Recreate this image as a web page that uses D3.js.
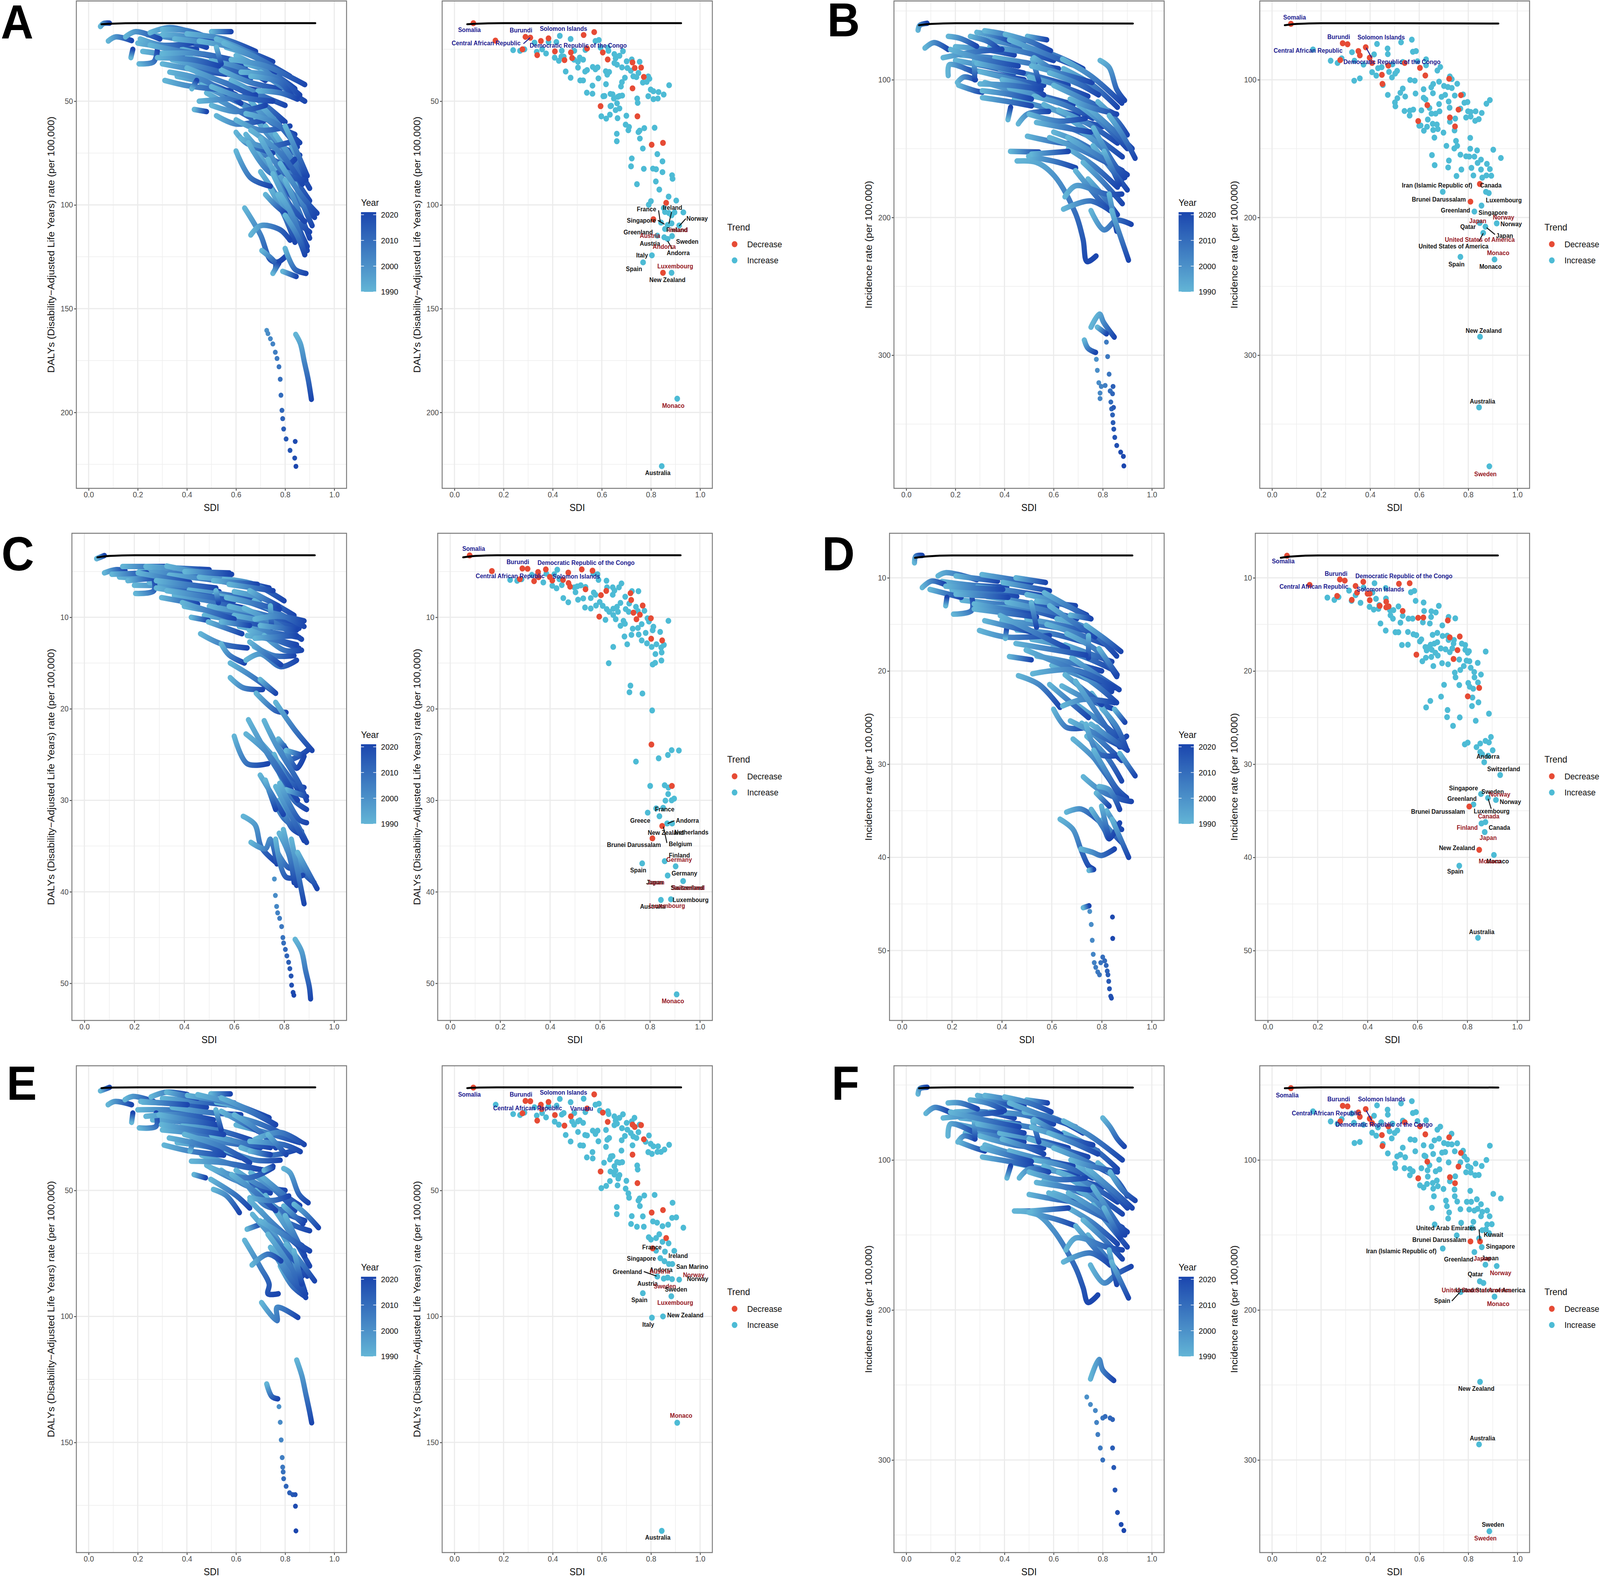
<!DOCTYPE html>
<meta charset="utf-8">
<title>SDI trajectories</title>
<style>
  html, body { margin: 0; background: #fff; overflow: hidden; }
  svg { display: block; width: 100vw; height: 100vh; }
  text { font-family: "Liberation Sans", sans-serif; }
</style>
<div id="viz"></div>
<script src="https://cdnjs.cloudflare.com/ajax/libs/d3/7.8.5/d3.min.js"></script>
<script>

var width = 4317;
var height = 4034;

var sdiTicks = [0, 0.2, 0.4, 0.6, 0.8, 1];
var sdiMinor = [0.1, 0.3, 0.5, 0.7, 0.9];
var yearTicks = [1990, 2000, 2010, 2020];
var dalyTitle = "DALYs (Disability\u2212Adjusted Life Years) rate (per 100,000)";
var incTitle = "Incidence rate (per 100,000)";

// expected curve, same for both plots of a pair
var refA = [[.052,12.9],[.1,12.6],[.2,12.4],[.5,12.4],[.923,12.4]];
var refB = [[.052,60.4],[.1,59.5],[.2,59],[.5,59],[.923,59.2]];
var refC = [[.052,3.45],[.1,3.3],[.2,3.22],[.5,3.22],[.923,3.22]];
var refD = [[.052,7.85],[.1,7.7],[.2,7.6],[.5,7.6],[.923,7.6]];
var refE = [[.052,9.4],[.1,9.2],[.2,9.1],[.5,9.1],[.923,9.1]];
var refF = [[.052,52.2],[.1,51.8],[.2,51.6],[.5,51.6],[.923,51.7]];

// trajectories inside the dense bands, drawn first
var massA = [[[.2,22],[.32,24],[.44,25]],[[.22,26],[.34,28],[.46,31]],[[.24,18],[.36,20],[.48,24]],[[.3,18],[.42,19],[.56,23]],[[.3,32],[.44,35],[.56,37]],[[.34,30],[.48,34],[.6,38]],[[.36,38],[.5,42],[.6,47]],[[.38,25],[.52,29],[.64,33]],[[.4,29],[.54,33],[.66,39]],[[.44,36],[.58,42],[.7,45]],[[.46,42],[.6,50],[.7,55]],[[.48,46],[.6,54],[.72,62]],[[.5,30],[.62,34],[.72,40]],[[.54,35],[.66,41],[.78,44]],[[.56,24],[.68,29],[.78,37]],[[.56,46],[.66,54],[.78,60]],[[.58,40],[.7,47],[.8,52]],[[.6,28],[.7,34],[.8,42]],[[.62,44],[.72,52],[.8,60]],[[.64,32],[.74,36],[.84,44]],[[.66,50],[.74,60],[.84,66]],[[.7,36],[.8,44],[.88,50]],[[.68,58],[.76,70],[.86,76]],[[.7,52],[.78,62],[.85,72]],[[.72,62],[.8,74],[.88,86]],[[.74,70],[.82,84],[.9,98]],[[.64,66],[.72,76],[.82,82]],[[.76,66],[.84,80],[.9,92]],[[.68,74],[.76,86],[.84,98]],[[.7,84],[.78,98],[.85,110]],[[.76,82],[.84,96],[.92,106]],[[.8,88],[.86,104],[.9,116]],[[.82,100],[.86,112],[.89,122]],[[.74,92],[.8,106],[.84,118]],[[.84,90],[.88,102],[.91,110]],[[.82,70],[.86,80],[.88,86]]];
var massB = [[[.2,76],[.32,78],[.44,82]],[[.2,86],[.32,90],[.44,95]],[[.22,82],[.34,84],[.46,87]],[[.24,92],[.36,96],[.48,100]],[[.3,70],[.42,74],[.54,80]],[[.3,94],[.44,100],[.56,104]],[[.32,102],[.44,108],[.58,114]],[[.34,76],[.48,80],[.6,86]],[[.36,84],[.5,88],[.62,92]],[[.38,92],[.52,97],[.66,104]],[[.42,106],[.56,112],[.68,118]],[[.44,114],[.56,120],[.7,126]],[[.48,76],[.6,82],[.72,92]],[[.5,98],[.62,104],[.74,112]],[[.52,112],[.64,118],[.76,128]],[[.54,90],[.66,98],[.78,108]],[[.56,118],[.68,128],[.8,134]],[[.56,130],[.68,136],[.8,146]],[[.6,104],[.72,114],[.84,124]],[[.6,138],[.7,145],[.82,158]],[[.62,122],[.74,132],[.86,146]],[[.64,92],[.76,104],[.86,120]],[[.66,128],[.76,140],[.88,156]],[[.66,150],[.76,162],[.86,178]],[[.7,118],[.8,132],[.9,150]],[[.7,136],[.8,150],[.88,172]],[[.72,160],[.8,174],[.88,190]],[[.74,120],[.84,136],[.92,150]],[[.76,148],[.84,166],[.9,180]],[[.78,116],[.86,130],[.9,140]],[[.74,172],[.8,184],[.86,198]]];
var massC = [[[.14,5.6],[.26,5.8],[.4,6.1]],[[.2,6.5],[.32,6.6],[.46,7]],[[.22,5],[.36,5.2],[.5,5.6]],[[.26,6.2],[.4,6.6],[.54,7.2]],[[.34,5.4],[.48,5.8],[.62,6.4]],[[.36,7.6],[.5,8.2],[.64,9]],[[.4,8.8],[.52,9.4],[.66,10]],[[.42,7],[.56,7.5],[.7,8.2]],[[.46,5.6],[.6,6],[.74,6.8]],[[.48,9.8],[.6,10.3],[.72,11]],[[.5,8.8],[.62,9.4],[.76,10.2]],[[.52,7.6],[.64,8.2],[.78,9.6]],[[.56,5.8],[.68,6.4],[.8,8.2]],[[.58,8.8],[.7,9.6],[.84,10.6]],[[.6,7.2],[.72,8],[.84,9.8]],[[.6,9.8],[.72,10.4],[.86,11.2]],[[.62,11],[.74,11.6],[.86,12.2]],[[.64,9],[.76,10.6],[.87,12.4]],[[.66,11.4],[.76,12.4],[.86,13.4]],[[.68,8.2],[.78,9.6],[.88,11]],[[.68,13.2],[.76,14.2],[.84,14.2]],[[.72,12],[.8,13.6],[.87,13.6]],[[.7,23.5],[.78,26],[.86,29]],[[.74,22.4],[.82,25.5],[.9,24.4]],[[.76,25],[.82,28],[.88,28.6]],[[.78,27],[.84,30],[.89,31]],[[.74,29],[.8,32],[.87,33.4]],[[.8,24],[.85,26.5],[.88,25.2]],[[.78,30],[.83,33],[.86,33.6]],[[.82,31],[.86,33],[.89,34.6]],[[.76,35],[.82,37.4],[.86,37]],[[.84,36],[.88,38],[.92,39]],[[.78,33.6],[.82,36],[.84,39]]];
var massD = [[[.16,10.4],[.28,10.8],[.42,11]],[[.2,11.3],[.32,11.6],[.46,12]],[[.24,12.4],[.38,12.8],[.52,13.2]],[[.3,11],[.44,11.4],[.58,12]],[[.34,12],[.48,12.6],[.62,13.2]],[[.36,13.2],[.5,13.4],[.64,14.4]],[[.4,14.6],[.54,15],[.68,15.6]],[[.42,12.6],[.56,13.4],[.7,14.4]],[[.46,15.6],[.6,16],[.74,17]],[[.5,11.8],[.62,12.6],[.74,14]],[[.5,14.4],[.62,15],[.76,15.8]],[[.52,16.6],[.66,17.4],[.78,18.6]],[[.54,18.4],[.66,19],[.8,20]],[[.58,15],[.7,16],[.82,17.2]],[[.6,17.6],[.72,18.4],[.84,19.8]],[[.6,19.4],[.72,20.6],[.84,22.2]],[[.62,14.4],[.74,15.4],[.86,18.4]],[[.64,21.6],[.74,23],[.84,24]],[[.66,16],[.78,17.8],[.86,20.6]],[[.68,18.6],[.78,20.4],[.87,22]],[[.7,20],[.8,22],[.86,23.4]],[[.7,23.6],[.8,25.6],[.88,27.4]],[[.72,25.6],[.8,27.6],[.88,29.6]],[[.74,27],[.82,29.2],[.88,31.8]],[[.76,22.4],[.84,25.4],[.88,27.2]],[[.76,29],[.83,31.6],[.88,33.4]],[[.78,26],[.85,27.6],[.9,27]],[[.8,30],[.86,32.6],[.9,33.6]],[[.8,24],[.86,26],[.9,28.4]],[[.82,35],[.86,36.6],[.88,37]],[[.8,36],[.83,37],[.88,38.4]]];
var massE = [[[.2,18],[.32,18],[.46,19]],[[.22,15],[.34,15.5],[.48,17]],[[.26,22],[.4,23],[.52,25]],[[.3,13.5],[.42,14.5],[.56,16]],[[.3,26],[.44,27.5],[.58,30]],[[.34,17],[.48,19],[.62,20]],[[.36,31],[.5,33],[.62,37]],[[.38,24.5],[.52,26],[.66,30]],[[.42,29],[.56,31],[.7,33]],[[.46,36],[.6,40],[.72,42]],[[.48,40],[.6,46],[.7,49]],[[.5,28],[.62,31],[.74,33]],[[.52,15],[.64,18],[.76,24]],[[.54,42],[.64,48],[.74,51]],[[.56,20],[.68,23],[.8,28]],[[.56,34],[.68,38],[.78,38]],[[.6,24],[.72,27],[.86,31]],[[.6,42],[.7,48],[.8,50]],[[.62,33],[.74,36],[.84,34]],[[.64,47],[.72,56],[.82,58]],[[.66,43],[.76,50],[.84,58]],[[.68,50],[.78,58],[.88,62]],[[.7,58],[.78,66],[.87,72]],[[.72,52],[.8,62],[.9,66]],[[.72,62],[.8,74],[.87,84]],[[.76,58],[.84,70],[.9,80]],[[.76,72],[.82,84],[.88,90]],[[.78,66],[.85,78],[.89,84]],[[.8,60],[.85,70],[.88,76]],[[.78,80],[.83,88],[.88,92]],[[.82,74],[.86,84],[.88,90]],[[.7,44],[.8,52],[.86,56]]];
var massF = [[[.2,68],[.32,68],[.44,72]],[[.2,76],[.32,80],[.44,84]],[[.22,72],[.34,74],[.46,76]],[[.24,82],[.36,84],[.48,88]],[[.3,61],[.42,64],[.54,70]],[[.3,84],[.44,90],[.56,92]],[[.32,90],[.44,96],[.58,100]],[[.34,68],[.48,70],[.6,76]],[[.36,74],[.5,78],[.62,82]],[[.38,82],[.52,86],[.66,92]],[[.42,94],[.56,100],[.68,104]],[[.44,102],[.56,106],[.7,110]],[[.48,68],[.6,72],[.72,82]],[[.5,86],[.62,92],[.74,98]],[[.52,100],[.64,104],[.76,112]],[[.54,80],[.66,86],[.78,94]],[[.56,104],[.68,112],[.8,118]],[[.56,114],[.68,120],[.8,128]],[[.6,92],[.72,100],[.84,110]],[[.6,122],[.7,128],[.82,138]],[[.62,108],[.74,116],[.86,128]],[[.64,82],[.76,92],[.86,106]],[[.66,112],[.76,122],[.88,136]],[[.66,132],[.76,142],[.86,156]],[[.7,104],[.8,116],[.9,132]],[[.7,120],[.8,132],[.88,150]],[[.72,140],[.8,152],[.88,166]],[[.74,106],[.84,120],[.92,132]],[[.76,130],[.84,146],[.9,158]],[[.78,102],[.86,114],[.9,124]],[[.74,150],[.8,162],[.86,174]]];

// trajectories 1990 -> 2021
var tracksA = [
[[.048,14],[.06,12.6],[.085,12.4]],[[.08,21],[.11,19],[.175,20.8]],[[.15,19],[.19,16.5],[.29,20]],[[.172,29],[.18,25]],
[[.205,32],[.265,31],[.28,25]],[[.25,17],[.33,14.5],[.45,18]],[[.21,20],[.3,23],[.42,22]],[[.3,15.5],[.4,16],[.5,20]],
[[.5,16.5],[.58,16.5]],[[.4,17.5],[.55,20],[.68,26]],[[.25,23],[.38,26],[.5,28]],[[.28,29],[.42,30],[.53,33]],
[[.3,27],[.45,27],[.62,31]],[[.35,20],[.5,22],[.6,24]],[[.45,21],[.62,25],[.75,31]],[[.52,20],[.66,27],[.76,36]],
[[.55,22],[.7,30],[.82,38]],[[.52,24],[.54,32]],[[.58,30],[.72,33],[.88,42]],[[.62,36],[.75,38],[.86,47]],
[[.66,38],[.78,41],[.83,48]],[[.69,45],[.78,46],[.85,49]],[[.31,40],[.4,42.5],[.5,44],[.58,45]],[[.33,36],[.47,40],[.62,51]],
[[.4,34],[.55,41],[.68,48]],[[.43,54],[.48,55]],[[.45,50],[.55,49],[.68,47]],[[.42,44],[.44,40]],[[.5,43],[.62,48],[.75,50]],
[[.52,57],[.6,61],[.72,59]],[[.5,52],[.6,55],[.72,52]],[[.6,59],[.7,64],[.82,62]],[[.6,65],[.64,70],[.75,75]],
[[.62,68],[.72,72],[.84,69]],[[.64,56],[.75,60],[.86,70]],[[.6,74],[.66,87],[.74,91]],[[.65,70],[.75,85],[.84,78]],
[[.66,64],[.78,75],[.87,90]],[[.7,68],[.8,85],[.885,88]],[[.73,78],[.82,100],[.88,108]],[[.75,85],[.83,105],[.89,120]],
[[.77,95],[.82,105],[.9,113]],[[.72,95],[.76,100],[.8,104]],[[.8,62],[.85,75],[.89,86]],[[.78,80],[.87,96],[.93,104]],
[[.78,95],[.84,108],[.88,124]],[[.8,105],[.85,115],[.88,124]],[[.635,101.5],[.7,114.5],[.74,126.4],[.77,127.5],[.805,124.5]],
[[.66,114.5],[.7,110],[.78,112],[.82,117]],[[.705,122],[.76,128],[.76,131]],[[.75,133],[.775,128]],
[[.8,121],[.84,131],[.885,133]],[[.79,132],[.845,134.5]],[[.843,162.4],[.862,166.8],[.878,175.5],[.894,184.2],[.907,193.7]]
];
var tailA = [[.725,160.5],[.73,162],[.74,164.5],[.75,167],[.76,171],[.767,174],[.775,178],[.78,184],[.783,191.7],[.787,199],[.79,203],[.794,208],[.804,212.8],[.82,218.3],[.839,222],[.841,214],[.844,226]];

var tracksB = [
[[.048,64],[.055,60.5],[.085,59]],[[.076,77],[.113,73],[.171,78]],[[.171,68.5],[.22,70],[.287,75.7]],[[.261,68.5],[.33,72],[.372,77]],
[[.287,65.6],[.36,68],[.424,72]],[[.319,64.4],[.42,68],[.477,73]],[[.493,68.5],[.572,71]],[[.403,67],[.5,72],[.588,79]],
[[.171,97],[.176,89],[.28,95]],[[.208,102],[.235,98],[.282,100]],[[.277,86],[.279,100]],[[.213,104],[.28,108],[.31,109]],
[[.15,84],[.27,80],[.39,78]],[[.18,78],[.31,85],[.456,90]],[[.287,88],[.477,95]],[[.309,108],[.4,110],[.51,114]],
[[.31,113],[.42,116],[.51,119]],[[.39,100],[.5,105],[.56,111]],[[.3,103],[.42,104],[.55,107]],[[.414,129],[.425,120]],
[[.456,132],[.493,125],[.58,123]],[[.42,71],[.55,80],[.69,90]],[[.514,85],[.54,101]],[[.52,84],[.625,96]],[[.51,90],[.62,95],[.757,102]],
[[.583,95],[.7,103],[.783,111]],[[.789,86],[.826,91],[.857,107],[.889,115]],[[.636,85],[.75,97],[.878,117]],[[.667,114],[.75,120],[.857,125]],
[[.5,125],[.62,130],[.73,128]],[[.53,131],[.65,135],[.752,138]],[[.493,141],[.6,145],[.69,147]],[[.424,152],[.54,152.5]],
[[.451,159],[.53,160],[.604,170],[.689,197],[.72,216],[.736,232],[.773,228]],[[.498,155.6],[.62,160],[.69,164]],[[.51,154],[.66,152]],
[[.583,142],[.7,150],[.88,166]],[[.657,142],[.78,155],[.9,169]],[[.762,135],[.85,162],[.89,171]],[[.826,126],[.88,140],[.932,157]],
[[.689,166],[.8,190],[.83,195]],[[.646,185],[.69,177],[.815,183],[.878,183]],[[.64,194],[.75,188],[.83,195]],
[[.752,195],[.805,209],[.857,202],[.916,205]],[[.826,183],[.857,210]],[[.836,195],[.905,231]],[[.805,152],[.868,176]],
[[.752,279.7],[.787,270.2],[.803,276],[.847,286.9]],[[.778,279.7],[.815,284.5]],[[.725,289],[.74,295],[.771,298]]
];
var tailB = [[.774,303],[.778,311],[.784,320],[.789,327.5],[.789,331.5],[.794,322.7],[.81,322],[.815,290.5],[.82,301],[.826,313.8],[.83,326],[.831,326],[.833,334],[.836,339],[.84,328],[.84,343.4],[.842,322.7],[.842,349],[.844,338],[.845,353.7],[.849,359.7],[.857,365.6],[.873,370.4],[.884,373.5],[.886,380.4]];

var tracksC = [
[[.049,3.6],[.08,3.25]],[[.08,5.15],[.125,4.8],[.163,4.9]],[[.11,5.3],[.25,5.15]],[[.153,4.45],[.33,4.45]],[[.174,6],[.283,5.7]],
[[.205,7.4],[.278,7.1],[.278,5.7]],[[.246,4.45],[.5,4.8]],[[.33,4.4],[.45,5],[.59,5.3]],[[.402,5],[.58,5.15]],[[.215,5.15],[.423,6.2]],
[[.288,6],[.527,6.8]],[[.288,6.8],[.527,7.85]],[[.309,7.85],[.454,8.55]],[[.33,7.1],[.6,8.2]],[[.517,6],[.693,6.4]],[[.579,6.4],[.756,7.1]],
[[.527,7.1],[.537,8.4]],[[.569,7.85],[.782,9.1]],[[.662,7.1],[.776,8.75]],[[.392,8.4],[.6,10.2]],[[.428,10],[.496,10.35]],[[.745,8.75],[.75,11.1]],
[[.683,10.2],[.78,9.9],[.88,10.4]],[[.496,10.5],[.631,11.8]],[[.548,10.5],[.662,10.9]],[[.652,12],[.77,12.5],[.85,13]],
[[.465,11.8],[.548,12.9],[.652,13.35]],[[.548,12.9],[.579,14.1],[.641,15]],[[.647,14.7],[.704,14],[.787,15.4],[.85,14.7]],[[.662,12.7],[.787,15.2]],
[[.683,12.3],[.85,12]],[[.704,10.9],[.85,11.4]],[[.584,15],[.662,16.3],[.766,18.3]],[[.584,16.6],[.636,17.7],[.714,17.9]],[[.704,16.8],[.766,18.3]],
[[.688,18.3],[.766,20.2],[.808,20.4]],[[.766,19.3],[.84,22.2],[.912,24.55]],[[.657,21.2],[.725,24.55],[.808,28.15],[.854,30]],
[[.72,21.3],[.766,23.85],[.86,28.15],[.89,30]],[[.647,22.75],[.735,24.9],[.829,28.85]],[[.6,23],[.652,26],[.735,26]],[[.777,23.3],[.808,24.4]],
[[.808,24.55],[.875,25.1]],[[.704,27.25],[.756,29.6],[.797,31.55]],[[.725,27.8],[.766,31]],[[.766,28.5],[.88,34.4]],[[.808,28.85],[.89,29.6]],
[[.782,28.15],[.86,32.1],[.89,32.45]],[[.636,31.75],[.683,32.65],[.709,35.15],[.766,36.75]],[[.667,34.6],[.725,35.3],[.745,34.25],[.771,36.95]],
[[.766,34.25],[.808,38.4],[.875,38.2]],[[.797,33.2],[.85,39.3]],[[.829,34.25],[.88,41.3]],[[.854,35.7],[.932,39.65]],
[[.844,45.2],[.87,46.5],[.886,48.6],[.901,50.4],[.906,51.7]]
];
var tailC = [[.761,38.6],[.765,40.4],[.77,41.6],[.774,42.3],[.782,42.9],[.79,43.8],[.795,45],[.798,45.6],[.805,46.3],[.811,47],[.818,47.7],[.823,48.4],[.828,49.2],[.83,50.2],[.836,51],[.839,51.3]];

var tracksD = [
[[.05,8.4],[.055,7.7],[.081,7.6]],[[.081,11.05],[.118,10.35],[.17,10.7]],[[.112,11.25],[.237,12.1]],[[.144,9.8],[.175,9.45],[.3,10.2]],
[[.175,13],[.18,12.1]],[[.206,13.9],[.279,13.5],[.279,11.9]],[[.216,9.8],[.383,10.35]],[[.32,9.65],[.518,10.5]],[[.456,10],[.575,10.5]],
[[.404,10.5],[.591,11.4]],[[.175,10.9],[.404,11.25]],[[.216,11.75],[.425,12.1]],[[.289,12.8],[.518,13.9]],[[.289,13.35],[.539,14.2]],
[[.539,12.5],[.695,13]],[[.518,12.65],[.539,15.3]],[[.57,11.6],[.757,14.4]],[[.591,13],[.773,16.35]],[[.674,14],[.757,14.4]],
[[.737,15.1],[.82,16.7],[.877,17.9]],[[.653,17.2],[.841,19]],[[.747,16.2],[.747,18.6]],[[.789,17.6],[.862,20.4]],[[.31,15.65],[.414,16.35],[.591,16.2]],
[[.414,16.5],[.419,15.5]],[[.331,14.6],[.518,15.8]],[[.393,14.05],[.664,17.6]],[[.456,17.05],[.737,18.3]],[[.43,18.45],[.518,18.8]],
[[.497,17.75],[.643,19.35],[.8,21.1]],[[.523,20.3],[.695,19.9],[.851,21.8]],[[.653,20.4],[.8,23.6]],[[.466,20.5],[.549,21.45],[.633,23.9]],
[[.591,21.45],[.747,25]],[[.643,23.75],[.726,23.05],[.851,23.4]],[[.695,21.1],[.872,28.15]],[[.607,24.1],[.659,26.05],[.737,26.05]],
[[.674,25.35],[.882,28.15]],[[.737,25.7],[.789,28.9],[.872,29.05]],[[.757,25.7],[.903,28.5]],[[.685,27.3],[.778,29.6],[.872,33.45]],
[[.768,28.5],[.882,33.8]],[[.872,28.85],[.934,31.25]],[[.726,31.35],[.799,32.9],[.882,33.8],[.919,34]],[[.789,32.4],[.83,32.75],[.872,34.85]],
[[.778,33.1],[.83,34.5]],[[.851,24.1],[.893,25.5]],[[.659,35.15],[.716,34.8],[.789,36.1]],[[.633,35.9],[.685,37],[.716,39.1],[.747,40.9],[.763,41.2]],
[[.716,39.1],[.763,39.45],[.799,39.8],[.851,39.1]],[[.758,34.85],[.81,37],[.83,38],[.872,36.3]],[[.841,35.9],[.908,40]],[[.799,34.5],[.83,38]],
[[.749,41.4],[.768,41.3]],[[.726,45.4],[.749,45.2]]
];
var tailD = [[.752,45.8],[.758,47.2],[.762,48.9],[.766,50.4],[.77,51.3],[.776,51.8],[.784,52.3],[.791,52.6],[.796,51.3],[.804,50.7],[.812,51.1],[.818,51.6],[.822,52.2],[.825,52.6],[.828,53.3],[.831,54.1],[.836,54.9],[.839,55.1],[.843,46.4],[.844,48.7]];

var tracksE = [
[[.048,10.5],[.085,9.1]],[[.079,16],[.106,14.7],[.175,16]],[[.148,14],[.18,12.7],[.265,14.7]],[[.175,23],[.18,19.3]],[[.206,25.2],[.275,24.5],[.275,19.3]],
[[.254,12.9],[.317,11],[.402,12]],[[.317,11],[.444,13.4]],[[.497,11.7],[.577,11.7]],[[.402,12.3],[.593,15.3]],[[.212,14.7],[.402,16]],
[[.233,20.6],[.381,20],[.508,22]],[[.286,20],[.52,23.9]],[[.296,23.9],[.55,27.8]],[[.444,12],[.6,16],[.735,21.2]],[[.54,13.3],[.65,18],[.762,23.9]],
[[.54,18.6],[.7,27]],[[.518,18],[.54,26]],[[.593,20],[.7,27],[.762,33.1]],[[.677,29.8],[.78,27],[.878,31.8]],[[.656,30.5],[.8,32],[.862,34.6]],
[[.73,27.8],[.804,35.8]],[[.656,34.4],[.74,35.8]],[[.307,32],[.413,34.4],[.55,36]],[[.413,34.4],[.429,29.8]],[[.328,29.2],[.5,33],[.55,36]],
[[.39,27.8],[.55,33],[.656,39]],[[.418,38.4],[.55,39],[.7,41.7]],[[.429,43.7],[.476,45]],[[.497,41],[.65,45],[.75,41]],[[.714,42],[.751,40.4]],
[[.497,45.6],[.6,52],[.656,57]],[[.508,49.6],[.56,52],[.614,58.8]],[[.582,43.7],[.67,50],[.762,58]],[[.656,52.9],[.75,54],[.815,52.2]],
[[.794,41.3],[.82,43],[.857,51.6],[.894,54.9]],[[.836,55.5],[.88,59],[.936,64.8]],[[.794,56.2],[.873,63.2]],[[.645,65.4],[.698,63.5]],
[[.656,54],[.76,64],[.878,74]],[[.667,59.5],[.78,72],[.868,80.6]],[[.698,62.1],[.8,68],[.9,74]],[[.73,67.4],[.82,80],[.884,92.5]],
[[.74,72.6],[.83,86],[.884,91]],[[.804,71.4],[.86,78],[.92,85.9]],[[.836,74],[.868,87.2]],[[.635,69.8],[.7,80.6],[.735,87.2],[.73,91],[.772,91]],
[[.665,79.6],[.73,75.3],[.783,78]],[[.704,94.5],[.767,101.7],[.767,96.4],[.852,100.4]],[[.847,117.3],[.868,123.5],[.884,130.7],[.9,138],[.908,142.2]],
[[.725,126.8],[.746,131.8],[.77,132.7]]
];
var tailE = [[.775,135.8],[.78,142],[.784,149],[.788,156],[.79,159.8],[.792,161.7],[.794,164.4],[.804,167.4],[.818,170],[.831,170.7],[.841,170.7],[.842,175.3],[.844,185.1]];

var tracksF = [
[[.048,56],[.055,52.5],[.085,51.5]],[[.08,69],[.115,65],[.175,68]],[[.17,62],[.22,62],[.29,66]],[[.26,60],[.33,62],[.4,67]],[[.29,57],[.36,60],[.43,64]],
[[.32,57],[.42,60],[.48,64]],[[.49,60],[.575,62]],[[.4,58],[.5,62],[.59,68]],[[.17,84],[.18,76],[.28,82]],[[.21,88],[.235,84],[.28,86]],[[.277,74],[.28,86]],
[[.215,88],[.28,92],[.32,94]],[[.15,72],[.27,70],[.39,68]],[[.18,68],[.31,73],[.46,78]],[[.29,76],[.48,82]],[[.31,92],[.42,97],[.51,101]],[[.31,98],[.42,101],[.51,104]],
[[.39,86],[.5,92],[.56,96]],[[.41,112],[.425,104]],[[.46,112],[.5,106],[.58,108]],[[.42,62],[.55,70],[.69,78]],[[.515,74],[.54,88]],[[.52,73],[.63,83]],
[[.51,78],[.62,84],[.76,90]],[[.58,82],[.7,90],[.78,96]],[[.8,72],[.83,78],[.86,86],[.888,91]],[[.64,74],[.75,84],[.88,100]],[[.67,100],[.75,104],[.86,108]],
[[.5,108],[.62,113],[.73,112]],[[.53,115],[.65,118],[.75,120]],[[.5,123],[.6,126],[.69,128]],[[.44,134],[.54,134]],
[[.45,134],[.53,136],[.6,147],[.69,172],[.72,185],[.74,195],[.78,190]],[[.5,135],[.62,140],[.69,144]],[[.51,134],[.66,132]],[[.58,122],[.7,130],[.88,145]],
[[.66,122],[.78,134],[.9,148]],[[.76,118],[.85,140],[.89,150]],[[.83,108],[.88,120],[.932,127]],[[.69,144],[.8,165],[.83,170]],[[.65,160],[.69,152],[.815,158],[.88,160]],
[[.64,168],[.75,162],[.83,170]],[[.75,170],[.805,182],[.857,176],[.916,171]],[[.826,160],[.857,183]],[[.836,168],[.905,192]],[[.805,132],[.87,152]],
[[.75,246],[.785,233],[.8,240],[.845,247]]
];
var tailF = [[.735,258],[.75,263],[.77,267],[.775,275],[.78,283],[.79,292],[.8,272],[.8,300],[.81,271],[.83,272],[.84,273],[.84,292],[.845,305],[.85,320],[.86,335],[.875,343],[.886,347]];

// 2021 values
var decA = [[.077,12.4],[.167,20.8],[.289,19],[.309,19.4],[.277,25],[.337,27.8],[.352,21],[.383,19.7],[.409,26],[.448,30.2],[.474,26.5],[.479,29.2],[.526,18.1],[.54,24.6],[.569,16.7],[.604,26.5],[.624,29.9],[.725,31.3],[.734,34],[.76,33.8],[.771,38.3],[.725,43.8],[.595,52.4],[.745,57.3],[.803,71],[.849,70.1],[.862,99],[.81,106.9],[.849,132.7]];
var incA = [[.239,25.4],[.267,25.7],[.285,25],[.326,21.8],[.335,26.2],[.357,25],[.373,27],[.383,21.5],[.408,29],[.415,21.5],[.429,18.5],[.425,30.5],[.437,25.7],[.445,28.5],[.435,28.5],[.453,35.7],[.473,20],[.473,38.7],[.488,25.7],[.487,30],[.503,31],[.503,33.8],[.51,29],[.524,30],[.533,25.3],[.54,35],[.532,35.7],[.512,40],[.524,40],[.539,45.9],[.562,46.4],[.562,42.5],[.563,33.5],[.574,34.6],[.583,33.7],[.586,39],[.574,21],[.588,20.5],[.595,24.2],[.606,47.6],[.611,47.5],[.617,41.8],[.616,35.6],[.622,37.2],[.63,35.9],[.627,25.7],[.625,24.2],[.651,27.3],[.656,29.4],[.651,31.6],[.662,32.4],[.672,28.1],[.686,25.9],[.682,33.7],[.701,30.8],[.704,34],[.718,35.3],[.722,29.9],[.754,31],[.728,38],[.741,38.4],[.749,36.4],[.694,38.7],[.682,40.8],[.678,42.9],[.635,46.5],[.644,46.7],[.649,48.7],[.665,47.9],[.672,47.5],[.683,47.3],[.662,51],[.635,52.4],[.638,52.2],[.656,54.3],[.672,53.5],[.598,57.3],[.618,58.4],[.633,56.5],[.664,58.2],[.7,57],[.697,61.3],[.711,62.4],[.708,64],[.744,48.7],[.746,50.8],[.749,64.9],[.754,64.2],[.773,63],[.815,62.8],[.755,68],[.661,65.7],[.661,69.3],[.767,72.8],[.826,75.5],[.722,77.6],[.719,81.4],[.847,79],[.771,82.6],[.808,82.5],[.821,82.8],[.847,84.2],[.886,85.7],[.888,87.4],[.82,88.7],[.834,92.6],[.743,90],[.872,96],[.903,97.9],[.8,98.2],[.791,99.9],[.852,101.5],[.857,103.4],[.873,103.9],[.896,103.6],[.884,105],[.932,103.6],[.915,109.9],[.841,108.5],[.857,111.6],[.868,109.7],[.884,108.9],[.826,114.8],[.854,115.6],[.868,116.4],[.886,115],[.804,124.3],[.768,127.7],[.884,132.7],[.907,193.4],[.844,225.9],[.789,38.1],[.794,39.2],[.767,41],[.783,40.7],[.874,42.3],[.799,44.4],[.81,45.2],[.831,45.6],[.852,46.8],[.789,47.6],[.81,49],[.828,48.7]];

var decB = [[.077,59.4],[.288,73.5],[.308,74.2],[.278,85.7],[.352,79.2],[.358,82.3],[.382,76.4],[.398,84],[.408,87.8],[.448,96.4],[.45,103],[.474,89.7],[.541,87.8],[.603,91.4],[.625,96.9],[.722,99.3],[.633,118.4],[.596,130],[.725,127.4],[.746,133.9],[.76,121.7],[.77,111.2],[.847,175.7],[.809,188.5]];
var incB = [[.167,78],[.239,86.2],[.267,87.8],[.284,84.5],[.326,80],[.336,86.2],[.335,100.7],[.358,99],[.373,89],[.428,74],[.416,81.6],[.408,94.5],[.425,97],[.432,91.6],[.447,90.9],[.471,77.3],[.472,81.4],[.452,103.8],[.472,111],[.477,94.3],[.491,88.8],[.489,98.3],[.502,95.5],[.51,93.6],[.526,72.8],[.533,87.1],[.501,116.5],[.503,119.3],[.511,113.4],[.523,109.5],[.533,106.4],[.543,112.2],[.54,122.7],[.563,100.2],[.582,100.7],[.57,70.9],[.574,79.7],[.587,79.2],[.593,86.6],[.628,89.5],[.628,85.2],[.585,110],[.561,126],[.562,122.4],[.576,121.7],[.609,122.2],[.618,106.9],[.618,113.1],[.626,114.3],[.6,133.4],[.606,133.2],[.619,137],[.632,134.1],[.635,128.9],[.642,120.5],[.65,124.6],[.649,105.5],[.657,103.1],[.656,109.8],[.681,101.4],[.674,93.3],[.686,90.7],[.681,117.7],[.683,122.9],[.667,124.6],[.655,132],[.672,132.5],[.657,136.5],[.676,135.8],[.662,142],[.699,138.4],[.691,112.4],[.706,111],[.701,104.5],[.717,105.3],[.733,106],[.725,97.6],[.733,99.5],[.755,102.9],[.72,115.8],[.724,120.3],[.745,111.5],[.725,130.5],[.747,128.2],[.744,136.8],[.75,144.4],[.755,148],[.711,148],[.743,149.9],[.768,121],[.779,110.7],[.784,116.7],[.797,116.2],[.791,127.4],[.799,122.9],[.81,123.4],[.81,126.7],[.83,122.9],[.828,129.8],[.843,128.6],[.855,124.1],[.874,117.4],[.888,114.8],[.808,142.2],[.808,150.1],[.836,151.3],[.902,150.8],[.933,156.8],[.652,154.7],[.663,162],[.721,158.7],[.718,163.7],[.768,154.4],[.791,155.6],[.804,155.8],[.825,155.8],[.838,160.4],[.852,158],[.876,161.1],[.888,164.9],[.852,165.2],[.813,164],[.821,169.5],[.772,165.2],[.752,169.9],[.857,171.1],[.874,169.5],[.894,169.7],[.872,181.4],[.884,182.3],[.696,181.4],[.854,191.4],[.825,195.7],[.916,204.3],[.847,204],[.87,206.7],[.861,211.2],[.768,228.6],[.907,230.5],[.848,286.6],[.844,337.9],[.886,380.7]];

var decC = [[.078,3.24],[.167,4.95],[.289,4.66],[.31,4.7],[.279,5.84],[.336,6.05],[.352,5.05],[.354,5.62],[.383,4.77],[.399,5.59],[.409,5.98],[.452,5.91],[.473,5.12],[.474,6.26],[.48,6.65],[.527,4.77],[.542,6.94],[.57,4.91],[.604,7.58],[.625,7.12],[.722,7.37],[.725,8.11],[.734,9.5],[.76,9.72],[.771,8.72],[.746,10.21],[.597,9.93],[.804,10.11],[.805,12.35],[.849,12.53],[.81,34.16],[.849,32.81],[.888,28.43],[.806,23.91]];
var incC = [[.24,5.91],[.268,6.01],[.286,5.84],[.327,5.37],[.351,5.55],[.373,6.19],[.385,5.23],[.409,6.55],[.417,5.3],[.426,6.83],[.429,4.8],[.437,5.84],[.447,6.48],[.453,7.9],[.473,8.36],[.497,6.73],[.509,6.62],[.502,7.26],[.523,6.51],[.542,6.69],[.512,8.08],[.533,7.94],[.54,8.93],[.563,9.04],[.563,7.9],[.575,7.3],[.582,7.54],[.584,8.72],[.573,5.23],[.59,5.3],[.594,5.91],[.599,8.33],[.611,8.75],[.626,6.01],[.628,6.73],[.627,9.11],[.622,10.28],[.637,9.4],[.653,9.75],[.651,6.73],[.651,7.54],[.658,7.08],[.653,9.07],[.668,8.86],[.672,9.4],[.663,10.21],[.676,6.73],[.686,6.3],[.682,8.43],[.701,7.76],[.703,9.11],[.682,10.93],[.694,10.39],[.7,10.71],[.717,8.5],[.728,7.15],[.754,7.15],[.715,9.4],[.744,8.86],[.752,9.32],[.778,9.29],[.731,11.25],[.752,11.17],[.755,11.89],[.767,10.75],[.783,11.71],[.767,12.53],[.726,11.92],[.698,12.1],[.709,12.95],[.653,13.24],[.635,15.02],[.79,10.11],[.796,10.46],[.814,11.03],[.811,11.42],[.841,11.6],[.874,10.39],[.788,12.85],[.807,13.24],[.826,12.95],[.856,13.02],[.845,13.31],[.822,14.02],[.847,13.84],[.846,14.73],[.821,14.98],[.811,15.16],[.722,17.47],[.718,18.19],[.77,18.33],[.809,20.18],[.835,25.41],[.872,25.05],[.887,24.52],[.916,24.56],[.744,25.77],[.801,28.43],[.859,28.36],[.874,28.61],[.873,29.32],[.862,30.04],[.887,30],[.897,29.82],[.825,30.89],[.853,30.82],[.791,31.35],[.838,31.74],[.869,32.53],[.889,32.53],[.859,36.65],[.903,37.22],[.871,38.22],[.769,36.9],[.933,38.83],[.844,40.89],[.884,40.82],[.907,51.21]];

var decD = [[.077,7.63],[.168,10.76],[.289,10.18],[.309,10.3],[.278,11.95],[.337,12.37],[.352,10.88],[.358,11.58],[.383,10.43],[.4,11.7],[.409,11.7],[.409,12.4],[.449,13.01],[.475,12.56],[.475,13.17],[.485,13.07],[.526,10.64],[.541,13.56],[.569,10.58],[.603,14.29],[.624,14.26],[.596,18.25],[.722,14.57],[.73,16.39],[.77,16.3],[.761,17.76],[.745,18.71],[.848,21.81],[.802,22.72],[.808,34.54],[.848,39.19]];
var incD = [[.239,12.13],[.267,12.37],[.284,12.07],[.326,11.37],[.336,12.47],[.352,11.86],[.372,12.68],[.384,11.04],[.408,13.11],[.42,11.58],[.434,12.25],[.425,13.41],[.444,13.32],[.447,12.92],[.428,10.58],[.452,14.9],[.473,15.66],[.473,11.1],[.474,12.22],[.49,13.47],[.492,14.02],[.502,14.38],[.504,13.47],[.512,15.84],[.524,15.84],[.524,13.07],[.532,14.81],[.541,14.08],[.538,17.21],[.562,17.18],[.562,15.81],[.564,14.38],[.581,14.38],[.574,11.55],[.588,11.4],[.593,12.47],[.584,16.06],[.596,16.15],[.61,16.82],[.616,16.61],[.625,12.65],[.627,13.56],[.656,13.59],[.674,13.71],[.686,13.01],[.655,14.2],[.622,14.78],[.65,14.9],[.7,15.11],[.725,14.2],[.752,14.35],[.661,16.12],[.68,15.91],[.701,16.24],[.72,16.21],[.62,18.95],[.634,18.58],[.632,17.43],[.646,17.43],[.653,17.18],[.637,17.79],[.658,17.73],[.668,17.06],[.68,16.91],[.672,18.04],[.656,18.49],[.682,18.34],[.664,19.47],[.694,17.58],[.713,17.67],[.73,17.98],[.699,19.16],[.723,19.28],[.725,16.67],[.745,17.06],[.74,17.58],[.747,16.67],[.778,17.06],[.792,17.21],[.792,17.73],[.807,17.88],[.802,18.04],[.768,18.77],[.797,18.89],[.809,18.95],[.842,19.13],[.874,17.91],[.786,19.47],[.814,19.65],[.772,19.89],[.75,20.17],[.753,20.68],[.828,20.11],[.855,20.38],[.829,20.68],[.843,21.23],[.804,21.29],[.81,21.69],[.824,21.9],[.768,21.51],[.707,21.48],[.695,22.75],[.652,23.21],[.635,23.91],[.821,22.85],[.845,23.36],[.819,23.76],[.721,24.19],[.719,24.95],[.77,24.98],[.834,25.34],[.887,24.58],[.743,25.89],[.79,27.87],[.802,27.69],[.837,28.17],[.852,27.78],[.873,27.5],[.887,27.66],[.895,27.08],[.902,28.51],[.852,28.69],[.86,28.93],[.884,29.09],[.868,29.79],[.932,31.16],[.855,33.2],[.883,33.62],[.915,33.84],[.825,34.32],[.857,36.36],[.873,36.21],[.87,37.28],[.907,39.74],[.768,40.9],[.843,48.63]];

var decE = [[.077,9.2],[.289,14.5],[.309,14.6],[.277,19.4],[.337,22.3],[.352,16],[.355,17.7],[.383,14.9],[.409,20.1],[.448,24.3],[.474,20.6],[.54,17.5],[.569,11.9],[.604,19.1],[.624,22.8],[.725,23.9],[.734,24.8],[.76,24.1],[.771,29.7],[.725,35.8],[.595,42.5],[.745,47.1],[.803,58.8],[.849,57.8],[.862,68.9],[.807,73]];
var incE = [[.168,16],[.239,19.7],[.267,20.1],[.285,19.1],[.326,17],[.335,20.3],[.357,19.3],[.373,21],[.383,16.6],[.408,22.7],[.416,16.4],[.429,13.7],[.425,23.9],[.437,19.9],[.445,19.3],[.453,28],[.473,15],[.473,30.6],[.488,19.3],[.479,22.6],[.487,23.9],[.503,22.6],[.51,22.2],[.524,23.2],[.503,26.8],[.526,13.6],[.533,18.9],[.54,28.2],[.532,28],[.512,32.1],[.524,32.2],[.539,36.9],[.562,34.8],[.563,37.3],[.563,26.3],[.574,27.6],[.583,26.3],[.586,30.5],[.574,16],[.588,15.6],[.592,18.3],[.609,39],[.617,26],[.617,32.7],[.622,29.9],[.63,29.2],[.625,18.6],[.628,19.7],[.651,20.6],[.656,22.3],[.651,24.1],[.662,23.5],[.672,21.2],[.686,19.8],[.682,25.3],[.701,23.2],[.704,25.9],[.718,27.2],[.722,22.6],[.733,21.2],[.754,23.9],[.728,28.6],[.741,29.2],[.749,26.9],[.694,28.4],[.681,30.1],[.68,34.2],[.637,36.5],[.644,36.4],[.633,37.7],[.672,39],[.683,38.8],[.662,38.8],[.651,40.4],[.635,42.5],[.656,42.1],[.672,43.9],[.651,43.7],[.667,45.3],[.598,49.1],[.618,48.2],[.633,46.3],[.664,48],[.7,46.2],[.697,49.3],[.708,51.2],[.711,52.9],[.725,32.1],[.744,40.1],[.746,41.7],[.749,54],[.754,53.2],[.773,52],[.815,51.8],[.755,56.2],[.661,56.6],[.661,59.4],[.767,60.3],[.722,60.2],[.719,63.3],[.743,64.4],[.771,64.4],[.808,62.3],[.825,62.8],[.847,64.2],[.87,63.6],[.886,60.9],[.903,60.7],[.888,54.9],[.932,64.8],[.792,28.2],[.778,30.7],[.799,31.5],[.81,32.5],[.829,32.5],[.874,31.9],[.855,33.8],[.789,34.8],[.804,35.5],[.826,34.7],[.841,34.7],[.791,68.6],[.8,69.5],[.821,68.9],[.834,67.4],[.847,70.4],[.872,71],[.857,74.3],[.895,74],[.821,73.9],[.838,76.9],[.855,78.1],[.873,79.2],[.887,79.2],[.826,84.2],[.852,85],[.868,84.6],[.886,85.2],[.915,85.4],[.767,90.8],[.883,92],[.804,100.5],[.849,100],[.907,142.2],[.844,185.1]];

var decF = [[.077,52.1],[.288,63.9],[.308,64.3],[.278,74.3],[.352,68.3],[.358,71.2],[.382,66.1],[.398,72.5],[.408,75.4],[.448,83.4],[.45,90.7],[.474,77.6],[.541,74.9],[.603,77.6],[.625,82.9],[.722,84.9],[.633,101.1],[.596,112.2],[.725,111.5],[.746,115.5],[.76,104.4],[.77,95.3],[.848,154.3],[.809,154.3]];
var incF = [[.167,67.6],[.239,74.3],[.267,75.8],[.284,72.7],[.325,69],[.334,75.2],[.336,88.7],[.358,88],[.373,76.5],[.428,63.6],[.416,70.5],[.408,81.8],[.425,83.8],[.432,78.3],[.445,74.9],[.471,66.5],[.472,69.8],[.452,89.4],[.472,95.6],[.479,80.9],[.491,75.8],[.488,85.6],[.5,82],[.511,80.3],[.526,62.3],[.533,73.8],[.501,102.4],[.503,105.3],[.51,97.6],[.523,96.5],[.533,91.8],[.543,98.2],[.54,105.5],[.564,86.3],[.582,86.7],[.57,60.8],[.574,68.7],[.587,68.1],[.593,74.1],[.628,73.6],[.584,94.2],[.562,110.2],[.562,106],[.574,107.5],[.609,105.5],[.618,90.2],[.621,97.1],[.626,97.6],[.603,116.9],[.618,118.4],[.632,116],[.635,111.1],[.642,103.5],[.634,106.9],[.65,90.9],[.662,86.9],[.657,96],[.681,85.8],[.674,79.8],[.686,77.8],[.681,99.8],[.683,106.2],[.667,107.5],[.655,115.3],[.672,113.7],[.657,119.1],[.676,117.5],[.66,124.2],[.699,119.3],[.693,95.1],[.706,94.7],[.701,88.7],[.717,89.4],[.733,89.6],[.732,82.5],[.755,88.9],[.72,101.6],[.745,94.2],[.725,114.2],[.747,110.9],[.744,119.7],[.745,124.2],[.755,127.7],[.709,127.1],[.713,130.8],[.722,135],[.718,139],[.768,101.6],[.779,93.8],[.784,97.6],[.795,99.8],[.791,108.2],[.799,104.2],[.81,105.3],[.81,108.4],[.83,102.4],[.828,110.2],[.843,110],[.855,104],[.874,100],[.888,90.5],[.808,120.6],[.794,127.9],[.812,127.9],[.804,133],[.835,126.2],[.902,122.6],[.933,125.7],[.652,131.9],[.663,143],[.768,132.8],[.825,133.7],[.838,132.6],[.852,129.5],[.877,133.7],[.857,134.6],[.887,137.5],[.852,137.5],[.821,141.2],[.771,141.9],[.815,145.2],[.857,146.8],[.877,143],[.896,142.8],[.872,146.3],[.753,150.3],[.844,152.3],[.885,148.8],[.855,158.1],[.696,159],[.825,161.4],[.87,169.8],[.916,170.7],[.847,180.9],[.862,182],[.769,188],[.907,191.1],[.848,247.9],[.844,289.6],[.886,347.5]];

// country labels: name, sdi, value, colour group (b low sdi, k black, r red)
var labelsA = [["Somalia",.061,15.6,"b"],["Burundi",.271,15.9,"b"],["Solomon Islands",.444,15.1,"b"],["Central African Republic",.129,22.1,"b"],["Democratic Republic of the Congo",.504,23.1,"b"],["France",.782,102.1,"k"],["Ireland",.888,101.2,"k"],["Norway",.988,106.6,"k"],["Singapore",.761,107.5,"k"],["Finland",.906,112.1,"k"],["Ireland",.911,112.1,"r"],["Greenland",.748,113.1,"k"],["Austria",.796,114.8,"r"],["Austria",.796,118.6,"k"],["Sweden",.948,117.7,"k"],["Andorra",.854,120.2,"r"],["Andorra",.911,123.2,"k"],["Italy",.764,124.3,"k"],["Spain",.731,130.8,"k"],["Luxembourg",.899,129.6,"r"],["New Zealand",.867,136.1,"k"],["Monaco",.891,196.8,"r"],["Australia",.828,229.2,"k"]];
var labelsB = [["Somalia",.092,54.8,"b"],["Burundi",.272,68.9,"b"],["Solomon Islands",.445,69.1,"b"],["Central African Republic",.147,78.7,"b"],["Democratic Republic of the Congo",.489,87.1,"b"],["Iran (Islamic Republic of)",.673,176.8,"k"],["Canada",.892,176.8,"k"],["Brunei Darussalam",.68,186.8,"k"],["Luxembourg",.945,187.5,"k"],["Greenland",.748,194.7,"k"],["Singapore",.901,196.4,"k"],["Japan",.839,202.4,"r"],["Norway",.944,199.8,"r"],["Qatar",.799,206.7,"k"],["Norway",.975,204.8,"k"],["Japan",.948,213.2,"k"],["United States of America",.847,216.2,"r"],["United States of America",.74,221,"k"],["Monaco",.922,225.8,"r"],["Spain",.752,234,"k"],["Monaco",.891,235.7,"k"],["New Zealand",.863,282.3,"k"],["Australia",.858,333.5,"k"],["Sweden",.87,386.4,"r"]];
var labelsC = [["Somalia",.094,2.49,"b"],["Burundi",.271,3.95,"b"],["Democratic Republic of the Congo",.544,4.06,"b"],["Central African Republic",.24,5.48,"b"],["Solomon Islands",.505,5.52,"b"],["France",.859,31,"k"],["Greece",.761,32.2,"k"],["Andorra",.95,32.2,"k"],["New Zealand",.864,33.56,"k"],["Netherlands",.966,33.5,"k"],["Belgium",.922,34.77,"k"],["Brunei Darussalam",.736,34.88,"k"],["Finland",.918,36,"k"],["Germany",.917,36.5,"r"],["Spain",.753,37.65,"k"],["Germany",.938,37.97,"k"],["Japan",.819,38.97,"k"],["Japan",.824,38.97,"r"],["Switzerland",.949,39.57,"k"],["Switzerland",.954,39.57,"r"],["Luxembourg",.963,40.89,"k"],["Australia",.811,41.6,"k"],["Luxembourg",.869,41.53,"r"],["Monaco",.892,51.96,"r"]];
var labelsD = [["Somalia",.062,8.23,"b"],["Burundi",.274,9.54,"b"],["Democratic Republic of the Congo",.546,9.82,"b"],["Central African Republic",.185,10.94,"b"],["Solomon Islands",.452,11.22,"b"],["Andorra",.883,29.18,"k"],["Switzerland",.946,30.52,"k"],["Singapore",.785,32.59,"k"],["Sweden",.902,32.95,"k"],["Norway",.93,33.23,"r"],["Greenland",.779,33.71,"k"],["Norway",.973,34.02,"k"],["Brunei Darussalam",.683,35.08,"k"],["Luxembourg",.898,35.05,"k"],["Canada",.886,35.6,"r"],["Finland",.8,36.82,"r"],["Canada",.929,36.82,"k"],["Japan",.884,37.91,"r"],["New Zealand",.759,38.98,"k"],["Monaco",.922,40.41,"k"],["Monaco",.891,40.41,"r"],["Spain",.752,41.5,"k"],["Australia",.858,47.99,"k"]];
var labelsE = [["Somalia",.061,11.9,"b"],["Burundi",.271,11.9,"b"],["Solomon Islands",.444,11.1,"b"],["Central African Republic",.298,17.4,"b"],["Vanuatu",.518,17.5,"b"],["France",.804,72.6,"k"],["Singapore",.761,77,"k"],["Ireland",.911,75.9,"k"],["San Marino",.968,80.3,"k"],["Andorra",.841,81.5,"k"],["Austria",.836,82.2,"r"],["Greenland",.704,82.3,"k"],["Norway",.974,83.5,"r"],["Norway",.99,85.1,"k"],["Austria",.786,86.9,"k"],["Sweden",.857,88,"r"],["Sweden",.902,89.3,"k"],["Spain",.753,93.4,"k"],["Luxembourg",.899,94.6,"r"],["New Zealand",.94,99.5,"k"],["Italy",.789,103.2,"k"],["Monaco",.923,139.4,"r"],["Australia",.828,187.7,"k"]];
var labelsF = [["Somalia",.062,56.8,"b"],["Burundi",.272,59.4,"b"],["Solomon Islands",.447,59.4,"b"],["Central African Republic",.221,68.7,"b"],["Democratic Republic of the Congo",.457,76.3,"b"],["United Arab Emirates",.71,145.5,"k"],["Kuwait",.903,149.9,"k"],["Brunei Darussalam",.682,153.2,"k"],["Singapore",.931,157.6,"k"],["Iran (Islamic Republic of)",.527,160.8,"k"],["Greenland",.761,166.3,"k"],["Japan",.889,165.4,"k"],["Japan",.857,165.6,"r"],["Qatar",.829,176.1,"k"],["Norway",.932,175.4,"r"],["United States of America",.89,186.7,"k"],["United States of America",.834,186.7,"r"],["Monaco",.922,195.8,"r"],["Spain",.694,193.8,"k"],["New Zealand",.833,252.3,"k"],["Australia",.858,285.4,"k"],["Sweden",.901,343,"k"],["Sweden",.87,352.1,"r"]];

// label leader segments: sdi1, value1, sdi2, value2, colour group
var segsA = [[.281,22.3,.308,19.4,"b"],[.831,102.6,.838,108.2,"k"],[.828,107.4,.855,109.3,"k"],[.884,103.4,.873,109,"k"],[.942,106.6,.915,110.2,"k"],[.868,117.4,.887,121.2,"k"]];
var segsB = [[.384,76.8,.406,84,"b"],[.875,207.4,.909,212.4,"k"],[.861,211.5,.843,217.5,"k"]];
var segsC = [[.871,32.53,.898,32.24,"k"],[.854,32.88,.868,34.66,"k"]];
var segsD = [[.884,33.71,.896,34.78,"k"]];
var segsE = [[.771,82.2,.823,84,"k"]];
var segsF = [[.384,67,.406,73.6,"b"],[.844,146.3,.848,153.7,"k"],[.733,194,.764,188.5,"k"]];

var labelColor = { b: "#1b1b8f", k: "#141414", r: "#96181f" };
var yearLow = "#63b5d6";
var yearHigh = "#1b46ae";
var decColor = "#E64B35";
var incColor = "#4DBBD5";

// layout of the six pairs, pixels
var layout = [
  { letter: "A", lx: 2, ly: 99, top: 2.5, bottom: 1250, left: [206, 1193], right: [935, 1922], titleX: [138, 1125], titleLen: 656, bar: 974, barTop: 543, dom: [1.7, 236.6], maj: [50,100,150,200], min: [25,75,125,175,225], title: dalyTitle, tracks: massA.concat(tracksA), tail: tailA, ref: refA, dec: decA, inc: incA, labels: labelsA, segs: segsA },
  { letter: "B", lx: 2232, ly: 93, top: 2.5, bottom: 1250, left: [2412, 3399], right: [3141, 4127], titleX: [2344, 3330], titleLen: 327, bar: 3180, barTop: 543, dom: [42.8, 396.7], maj: [100,200,300], min: [50,150,250,350], title: incTitle, tracks: massB.concat(tracksB), tail: tailB, ref: refB, dec: decB, inc: incB, labels: labelsB, segs: segsB },
  { letter: "C", lx: 4, ly: 1460, top: 1365, bottom: 2612, left: [194, 1181], right: [935, 1922], titleX: [138, 1125], titleLen: 656, bar: 974, barTop: 1905, dom: [0.82, 54.06], maj: [10,20,30,40,50], min: [5,15,25,35,45], title: dalyTitle, tracks: massC.concat(tracksC), tail: tailC, ref: refC, dec: decC, inc: incC, labels: labelsC, segs: segsC },
  { letter: "D", lx: 2218, ly: 1460, top: 1365, bottom: 2612, left: [2400, 3387], right: [3141, 4127], titleX: [2344, 3330], titleLen: 327, bar: 3180, barTop: 1905, dom: [5.22, 57.5], maj: [10,20,30,40,50], min: [15,25,35,45,55], title: incTitle, tracks: massD.concat(tracksD), tail: tailD, ref: refD, dec: decD, inc: incD, labels: labelsD, segs: segsD },
  { letter: "E", lx: 18, ly: 2815, top: 2728, bottom: 3974, left: [206, 1193], right: [935, 1922], titleX: [138, 1125], titleLen: 656, bar: 974, barTop: 3268, dom: [0.54, 193.7], maj: [50,100,150], min: [25,75,125,175], title: dalyTitle, tracks: massE.concat(tracksE), tail: tailE, ref: refE, dec: decE, inc: incE, labels: labelsE, segs: segsE },
  { letter: "F", lx: 2244, ly: 2815, top: 2728, bottom: 3974, left: [2412, 3399], right: [3141, 4127], titleX: [2344, 3330], titleLen: 327, bar: 3180, barTop: 3268, dom: [37.2, 361.7], maj: [100,200,300], min: [50,150,250,350], title: incTitle, tracks: massF.concat(tracksF), tail: tailF, ref: refF, dec: decF, inc: incF, labels: labelsF, segs: segsF }
];

// the window can be narrower than the figure, so the drawing is fitted to it
var svg = d3.select("#viz").append("svg")
  .attr("viewBox", "0 0 " + width + " " + height)
  .attr("preserveAspectRatio", "none");
var defs = svg.append("defs");

var color = d3.scaleLinear().domain([1990, 2021]).range([yearLow, yearHigh]);
var gradId = 0;

var barGrad = defs.append("linearGradient").attr("id", "yearbar")
  .attr("x1", 0).attr("x2", 0).attr("y1", 1).attr("y2", 0);
barGrad.append("stop").attr("offset", "0%").attr("stop-color", yearLow);
barGrad.append("stop").attr("offset", "100%").attr("stop-color", yearHigh);

function frame(p, i) {
  var l = p.left[i], r = p.right[i];
  var g = svg.append("g");
  var x = d3.scaleLinear().domain([-0.05, 1.05]).range([l, r]);
  var y = d3.scaleLinear().domain(p.dom).range([p.top, p.bottom]);

  g.append("g").selectAll("line").data(sdiMinor).join("line")
    .attr("x1", x).attr("x2", x).attr("y1", p.top).attr("y2", p.bottom)
    .attr("stroke", "#ededed").attr("stroke-width", 1.5);
  g.append("g").selectAll("line").data(p.min).join("line")
    .attr("y1", y).attr("y2", y).attr("x1", l).attr("x2", r)
    .attr("stroke", "#ededed").attr("stroke-width", 1.5);
  g.append("g").selectAll("line").data(sdiTicks).join("line")
    .attr("x1", x).attr("x2", x).attr("y1", p.top).attr("y2", p.bottom)
    .attr("stroke", "#ebebeb").attr("stroke-width", 3);
  g.append("g").selectAll("line").data(p.maj).join("line")
    .attr("y1", y).attr("y2", y).attr("x1", l).attr("x2", r)
    .attr("stroke", "#ebebeb").attr("stroke-width", 3);

  var ax = g.append("g").attr("transform", "translate(0," + p.bottom + ")")
    .call(d3.axisBottom(x).tickValues(sdiTicks).tickFormat(d3.format(".1f")).tickSize(6).tickSizeOuter(0));
  var ay = g.append("g").attr("transform", "translate(" + l + ",0)")
    .call(d3.axisLeft(y).tickValues(p.maj).tickSize(6).tickSizeOuter(0));
  [ax, ay].forEach(function(a) {
    a.select(".domain").remove();
    a.selectAll("line").attr("stroke", "#333").attr("stroke-width", 2);
    a.selectAll("text").attr("fill", "#4d4d4d").attr("font-size", 20)
      .attr("font-family", "Liberation Sans");
  });

  g.append("text").text("SDI")
    .attr("x", (l + r) / 2).attr("y", p.bottom + 58)
    .attr("text-anchor", "middle").attr("font-size", 25).attr("fill", "#111");
  g.append("text").text(p.title)
    .attr("transform", "translate(" + p.titleX[i] + "," + ((p.top + p.bottom) / 2) + ") rotate(-90)")
    .attr("dy", "0.35em").attr("text-anchor", "middle").attr("font-size", 25).attr("fill", "#111")
    .attr("textLength", p.titleLen).attr("lengthAdjust", "spacingAndGlyphs");

  return { g: g, x: x, y: y, l: l, r: r };
}

function border(f, p) {
  f.g.append("rect")
    .attr("x", f.l).attr("y", p.top)
    .attr("width", f.r - f.l).attr("height", p.bottom - p.top)
    .attr("fill", "none").attr("stroke", "#7a7a7a").attr("stroke-width", 2.5);
}

function refLine(f, p) {
  var line = d3.line().x(function(d) { return f.x(d[0]); }).y(function(d) { return f.y(d[1]); })
    .curve(d3.curveMonotoneX);
  f.g.append("path").attr("d", line(p.ref))
    .attr("fill", "none").attr("stroke", "#000").attr("stroke-width", 5).attr("stroke-linecap", "round");
}

function drawTracks(f, p) {
  var line = d3.line().x(function(d) { return f.x(d[0]); }).y(function(d) { return f.y(d[1]); })
    .curve(d3.curveCatmullRom);
  p.tracks.forEach(function(t) {
    var id = "tr" + (gradId++);
    var a = t[0], b = t[t.length - 1];
    var grad = defs.append("linearGradient").attr("id", id)
      .attr("gradientUnits", "userSpaceOnUse")
      .attr("x1", f.x(a[0])).attr("y1", f.y(a[1]))
      .attr("x2", f.x(b[0])).attr("y2", f.y(b[1]));
    grad.append("stop").attr("offset", "0%").attr("stop-color", color(1990));
    grad.append("stop").attr("offset", "100%").attr("stop-color", color(2021));
    f.g.append("path").attr("d", line(t))
      .attr("fill", "none").attr("stroke", "url(#" + id + ")")
      .attr("stroke-width", 14).attr("stroke-linecap", "round").attr("stroke-linejoin", "round");
  });
  f.g.append("g").selectAll("circle").data(p.tail).join("circle")
    .attr("cx", function(d) { return f.x(d[0]); })
    .attr("cy", function(d) { return f.y(d[1]); })
    .attr("r", 6.5)
    .attr("fill", function(d, i) { return color(2000 + 21 * i / (p.tail.length - 1)); });
}

function drawScatter(f, p) {
  var pts = p.inc.map(function(d) { return [d[0], d[1], incColor]; })
    .concat(p.dec.map(function(d) { return [d[0], d[1], decColor]; }));
  f.g.append("g").selectAll("circle").data(pts).join("circle")
    .attr("cx", function(d) { return f.x(d[0]); })
    .attr("cy", function(d) { return f.y(d[1]); })
    .attr("r", 7.7)
    .attr("fill", function(d) { return d[2]; });
  f.g.append("g").selectAll("line").data(p.segs).join("line")
    .attr("x1", function(d) { return f.x(d[0]); }).attr("y1", function(d) { return f.y(d[1]); })
    .attr("x2", function(d) { return f.x(d[2]); }).attr("y2", function(d) { return f.y(d[3]); })
    .attr("stroke", function(d) { return labelColor[d[4]]; }).attr("stroke-width", 2.5);
  f.g.append("g").selectAll("text").data(p.labels).join("text")
    .text(function(d) { return d[0]; })
    .attr("x", function(d) { return f.x(d[1]); })
    .attr("y", function(d) { return f.y(d[2]); })
    .attr("dy", "0.35em").attr("text-anchor", "middle")
    .attr("font-size", 16).attr("font-weight", "bold")
    .attr("fill", function(d) { return labelColor[d[3]]; });
}

function yearLegend(p) {
  var w = 41, h = 204;
  var g = svg.append("g");
  var y = d3.scaleLinear().domain([1990, 2021]).range([p.barTop + h, p.barTop]);
  g.append("text").text("Year").attr("x", p.bar).attr("y", p.barTop - 16)
    .attr("font-size", 24).attr("fill", "#111");
  g.append("rect").attr("x", p.bar).attr("y", p.barTop)
    .attr("width", w).attr("height", h).attr("fill", "url(#yearbar)");
  g.selectAll(".t").data(yearTicks).join("text").attr("class", "t")
    .text(function(d) { return d; })
    .attr("x", p.bar + w + 13).attr("y", y).attr("dy", "0.35em")
    .attr("font-size", 21).attr("fill", "#111");
  g.selectAll(".a").data(yearTicks).join("line").attr("class", "a")
    .attr("x1", p.bar).attr("x2", p.bar + 8).attr("y1", y).attr("y2", y)
    .attr("stroke", "#fff").attr("stroke-width", 1.5);
  g.selectAll(".b").data(yearTicks).join("line").attr("class", "b")
    .attr("x1", p.bar + w - 8).attr("x2", p.bar + w).attr("y1", y).attr("y2", y)
    .attr("stroke", "#fff").attr("stroke-width", 1.5);
}

function trendLegend(p) {
  var x = p.right[1] + 40;
  var top = p.barTop + 37;
  var g = svg.append("g");
  g.append("text").text("Trend").attr("x", x).attr("y", top + 10)
    .attr("font-size", 24).attr("fill", "#111");
  var items = [["Decrease", decColor], ["Increase", incColor]];
  items.forEach(function(d, i) {
    var ky = top + 45 + i * 41.5;
    g.append("circle").attr("cx", x + 20).attr("cy", ky).attr("r", 7.7).attr("fill", d[1]);
    g.append("text").text(d[0]).attr("x", x + 54).attr("y", ky).attr("dy", "0.35em")
      .attr("font-size", 22).attr("fill", "#111");
  });
}

layout.forEach(function(p) {
  var fl = frame(p, 0);
  drawTracks(fl, p);
  refLine(fl, p);
  border(fl, p);
  var fr = frame(p, 1);
  drawScatter(fr, p);
  refLine(fr, p);
  border(fr, p);
  yearLegend(p);
  trendLegend(p);
  svg.append("text").text(p.letter)
    .attr("x", p.lx).attr("y", p.ly)
    .attr("font-family", "Open Sans").attr("font-weight", "bold")
    .attr("font-size", 122).attr("fill", "#000");
});

</script>
